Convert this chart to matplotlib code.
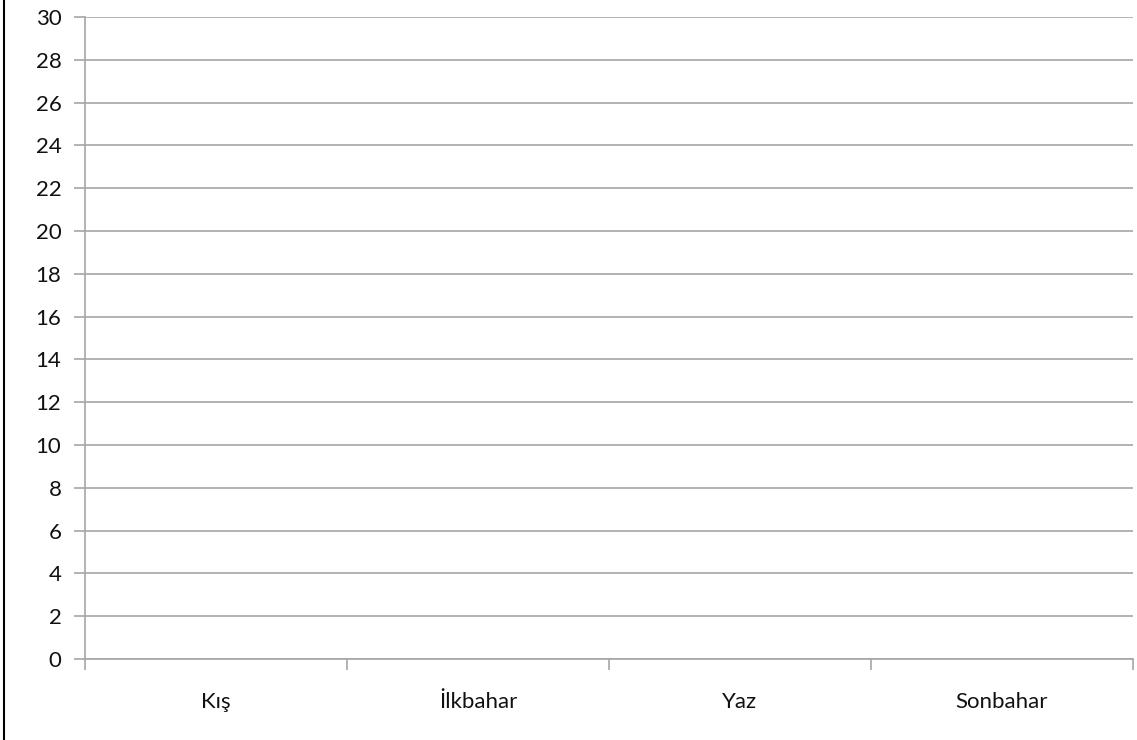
import numpy as np
import matplotlib.pyplot as plt
from matplotlib.lines import Line2D

plt.rcParams['font.family'] = ['Lato', 'DejaVu Sans']

# Data (the chart has no visible bars)
seasons = ['Kış', 'İlkbahar', 'Yaz', 'Sonbahar']
values = [0, 0, 0, 0]
y_ticks = list(range(0, 31, 2))

grid_color = '#a6a6a6'

fig = plt.figure(figsize=(11.37, 7.40), dpi=100)
ax = fig.add_axes([85 / 1137, 1 - 659 / 740, (1133 - 85) / 1137, (659 - 17) / 740])

x = np.arange(len(seasons))
ax.bar(x, values, width=0.6, color='#4f81bd')

ax.set_xlim(-0.5, len(seasons) - 0.5)
ax.set_ylim(0, 30)

# Y axis
ax.set_yticks(y_ticks)
ax.yaxis.grid(True, color=grid_color, linewidth=1.2)
ax.set_axisbelow(True)
ax.tick_params(axis='y', length=8, width=1.2, color=grid_color,
               labelsize=16, pad=9, labelcolor='#111111')

# X axis: labels at centers, ticks at category boundaries
ax.set_xticks(x)
ax.set_xticklabels(seasons)
ax.tick_params(axis='x', which='major', length=0, pad=24, labelsize=16,
               labelcolor='#111111')
ax.set_xticks(np.arange(-0.5, len(seasons)), minor=True)
ax.tick_params(axis='x', which='minor', length=8, width=1.2, color=grid_color)

for side in ['top', 'right']:
    ax.spines[side].set_visible(False)
for side in ['left', 'bottom']:
    ax.spines[side].set_color(grid_color)
    ax.spines[side].set_linewidth(1.2)

# Outer border on the left edge
fig.add_artist(Line2D([4 / 1137, 4 / 1137], [0, 1], transform=fig.transFigure,
                      color='black', linewidth=1.5))

fig.savefig('out.png', dpi=100)
